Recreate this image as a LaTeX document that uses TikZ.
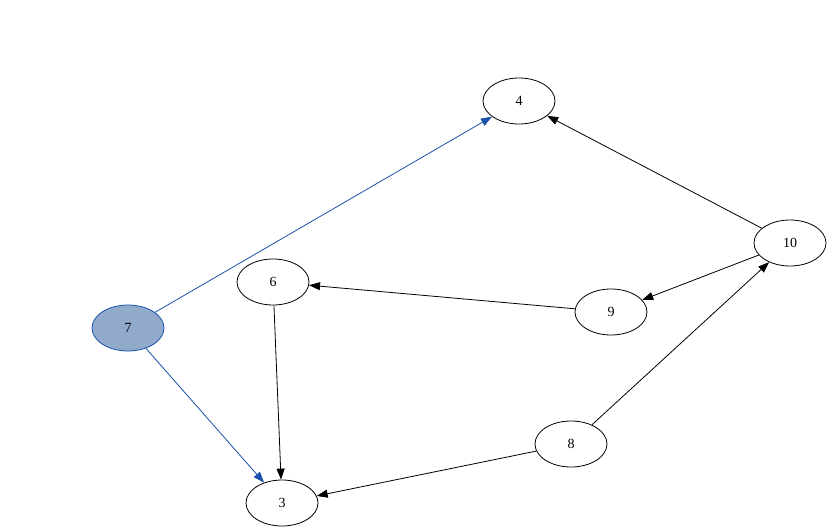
\documentclass[tikz,border=0pt]{standalone}
\usepackage{fontspec}
\setmainfont{Liberation Serif}
\usetikzlibrary{arrows.meta,shapes.geometric}
\definecolor{selblue}{HTML}{1A50AA}
\definecolor{selfill}{HTML}{91A9CA}
\begin{document}
\begin{tikzpicture}[x=1pt,y=-1pt, every node/.style={font=\fontsize{14}{16}\selectfont}]
  \tikzstyle{vertex}=[draw,ellipse,minimum width=72pt,minimum height=46pt,inner sep=0pt,line width=0.8pt]
  \tikzstyle{picked}=[vertex,draw=selblue,fill=selfill]
  \tikzstyle{edge}=[-{Triangle[length=11pt,width=8pt]},line width=0.8pt]
  \useasboundingbox (0,0) rectangle (832,532);
  \node[vertex] (n4) at (519,101) {4};
  \node[vertex] (n10) at (790,243) {10};
  \node[vertex] (n6) at (273,282) {6};
  \node[vertex] (n9) at (611,312) {9};
  \node[picked] (n7) at (128,328) {7};
  \node[vertex] (n8) at (571,444) {8};
  \node[vertex] (n3) at (282,503) {3};
  \draw[edge,selblue] (n7) -- (n4);
  \draw[edge,selblue] (n7) -- (n3);
  \draw[edge] (n10) -- (n4);
  \draw[edge] (n10) -- (n9);
  \draw[edge] (n9) -- (n6);
  \draw[edge] (n6) -- (n3);
  \draw[edge] (n8) -- (n3);
  \draw[edge] (n8) -- (n10);
\end{tikzpicture}
\end{document}
